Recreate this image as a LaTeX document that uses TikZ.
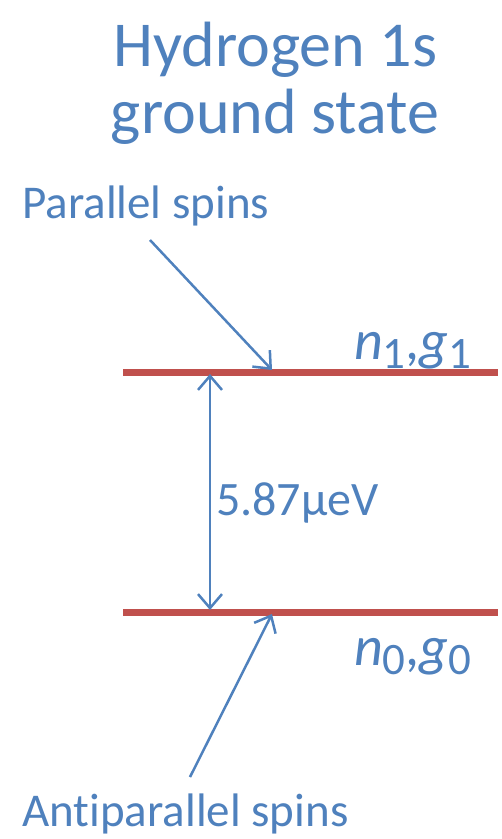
\documentclass[tikz,border=0pt]{standalone}
\usepackage{fontspec}
\setmainfont{Carlito}[Ligatures=NoCommon]
\usetikzlibrary{arrows.meta}
\definecolor{tblue}{HTML}{4F81BD}
\definecolor{tred}{HTML}{C0504D}
\begin{document}
\begin{tikzpicture}[x=1pt,y=-1pt,
  lbl/.style={inner sep=0pt,text=tblue},
  level/.style={draw=tred,line width=7pt},
  ptr/.style={draw=tblue,line width=2.5pt,-{Straight Barb[length=14pt,width=24pt,line width=2.5pt]}},
  dbl/.style={draw=tblue,line width=2.5pt,{Straight Barb[length=14pt,width=24pt,line width=2.5pt]}-{Straight Barb[length=14pt,width=24pt,line width=2.5pt]}}]
\useasboundingbox (0,0) rectangle (502,839);
\node[lbl,anchor=base,font=\fontsize{64}{70}\selectfont] (t1) at (275.5,66) {Hydrogen 1s};
\node[lbl,anchor=base,font=\fontsize{64}{70}\selectfont] (t2) at (275,133) {ground state};
\node[lbl,anchor=base west,font=\fontsize{47}{52}\selectfont] (par) at (22,218) {Parallel spins};
\node[lbl,anchor=base west,font=\fontsize{47}{52}\selectfont] (anti) at (22,826) {Ant\kern0pt iparallel spins};
\node[lbl,anchor=west,font=\fontsize{48}{52}\selectfont] (de) at (216,503) {5.87μeV};
\node[lbl,anchor=base west,font=\fontsize{56}{60}\selectfont] (n1) at (354,359) {\textit{n}\raisebox{-0.17em}{\fontsize{45}{48}\selectfont 1},\textit{g}\raisebox{-0.17em}{\fontsize{45}{48}\selectfont 1}};
\node[lbl,anchor=base west,font=\fontsize{56}{60}\selectfont] (n0) at (354,665) {\textit{n}\raisebox{-0.17em}{\fontsize{45}{48}\selectfont 0},\textit{g}\raisebox{-0.17em}{\fontsize{45}{48}\selectfont 0}};
\coordinate (u1) at (123,372);
\coordinate (u2) at (498,372);
\coordinate (l1) at (123,612);
\coordinate (l2) at (498,612);
\draw[level] (u1) -- (u2);
\draw[level] (l1) -- (l2);
\coordinate (pa) at (150,240);
\coordinate (pb) at (272,370);
\coordinate (aa) at (190,777);
\coordinate (ab) at (272,614);
\coordinate (da) at (210,374);
\coordinate (db) at (210,610);
\draw[ptr] (pa) -- (pb);
\draw[ptr] (aa) -- (ab);
\draw[dbl] (da) -- (db);
\end{tikzpicture}
\end{document}
